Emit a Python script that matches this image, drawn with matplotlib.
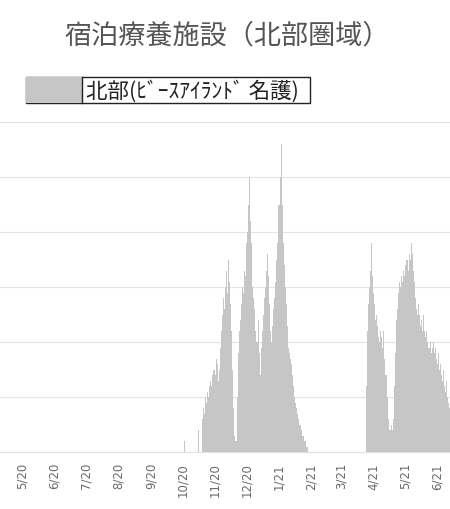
import matplotlib
matplotlib.use("Agg")
import matplotlib.pyplot as plt
from matplotlib.patches import Rectangle
from matplotlib.lines import Line2D
import pandas as pd
import numpy as np

plt.rcParams['font.family'] = ['Noto Sans CJK JP', 'DejaVu Sans']

title = "宿泊療養施設（北部圏域）"
series_name = "北部(ﾋﾞｰｽｱｲﾗﾝﾄﾞ 名護)"

# daily occupancy segments (start date, values per day)
seg1_start = "2020-10-03"
seg1_values = [2]
seg2_start = "2020-10-16"
seg2_values = [4, 0, 0, 0, 6, 8, 7, 10, 9, 11, 10, 12, 13, 12, 14, 15, 14, 17, 16, 13,
               15, 19, 22, 25, 28, 26, 30, 33, 29, 35, 31, 27, 22, 15, 8, 3, 2,
               10, 18, 22, 24, 27, 30, 29, 33, 32, 38, 40, 45, 50, 42, 38, 30, 28, 26,
               22, 20, 24, 18, 14, 19, 22, 25, 28, 30, 33, 36, 32, 27, 22, 20, 23, 26,
               28, 31, 35, 38, 45, 50, 56, 45, 38, 34, 30, 27, 23, 19, 18, 17, 16, 14,
               12, 10, 9, 8, 7, 6, 5, 4, 3, 3, 2, 2, 1, 1]
seg3_start = "2021-03-25"
seg3_values = [12, 22, 27, 30, 33, 38, 32, 29, 27, 24, 25, 23, 21, 20, 22, 21, 19, 22,
               17, 14, 10, 6, 4, 4, 5, 4, 6, 12, 18, 24, 26, 29, 31, 30, 32, 31, 33,
               32, 34, 35, 33, 36, 35, 38, 36, 33, 31, 28, 26, 25, 27, 25, 23, 24, 22,
               25, 22, 21, 22, 20, 19, 20, 18, 19, 20, 18, 19, 17, 16, 18, 15, 16, 14,
               13, 15, 12, 11, 13, 10, 9, 8, 7, 6, 5]

tick_dates = ["2020-05-01", "2020-06-01", "2020-07-01", "2020-08-01", "2020-09-01",
              "2020-10-01", "2020-11-01", "2020-12-01", "2021-01-01", "2021-02-01",
              "2021-03-01", "2021-04-01", "2021-05-01", "2021-06-01"]
tick_labels = ["5/20", "6/20", "7/20", "8/20", "9/20", "10/20", "11/20", "12/20",
               "1/21", "2/21", "3/21", "4/21", "5/21", "6/21"]

bar_color = "#c6c6c6"

fig = plt.figure(figsize=(4.5, 5.09), dpi=100)
W, H = 450, 509
ax = fig.add_axes([0, 1 - 452 / H, 1, (452 - 122) / H])

for start, vals in [(seg1_start, seg1_values), (seg2_start, seg2_values), (seg3_start, seg3_values)]:
    dates = pd.date_range(start, periods=len(vals), freq="D")
    ax.bar(dates, vals, width=1.0, color=bar_color, linewidth=0, align="center", zorder=2)

ax.set_xlim(pd.Timestamp("2020-04-10"), pd.Timestamp("2021-06-13"))
ax.set_ylim(0, 60)
ax.set_yticks(np.arange(0, 61, 10))
ax.yaxis.grid(True, color="#e4e4e4", linewidth=0.8, zorder=0)
ax.tick_params(axis="y", left=False, labelleft=False)
ax.set_xticks(pd.to_datetime(tick_dates))
ax.set_xticklabels(tick_labels, rotation=90, fontsize=8.5, color="#6a6a6a",
                   family=['DejaVu Sans'])
ax.tick_params(axis="x", length=0, pad=8)
for s in ["left", "right", "top"]:
    ax.spines[s].set_visible(False)
ax.spines["bottom"].set_color("#e0e0e0")
ax.spines["bottom"].set_linewidth(0.8)

fig.text(227 / W, 1 - 36 / H, title, ha="center", va="center", fontsize=19.5, color="#555555")

# legend box
lx0, lx1, ly0, ly1, sep = 26, 310, 77, 103, 82
fig.add_artist(Rectangle((lx0 / W, 1 - ly1 / H), (lx1 - lx0) / W, (ly1 - ly0) / H,
                         transform=fig.transFigure, facecolor="white", edgecolor="#222222", lw=1.0))
fig.add_artist(Rectangle((lx0 / W, 1 - ly1 / H), (sep - lx0) / W, (ly1 - ly0) / H,
                         transform=fig.transFigure, facecolor=bar_color, edgecolor="none"))
fig.add_artist(Line2D([sep / W, sep / W], [1 - ly0 / H, 1 - ly1 / H], transform=fig.transFigure,
                      color="#222222", lw=1.0))
fig.text(86 / W, 1 - 91 / H, series_name, ha="left", va="center", fontsize=15.5, color="#222222")

fig.savefig("out.png", dpi=100)
